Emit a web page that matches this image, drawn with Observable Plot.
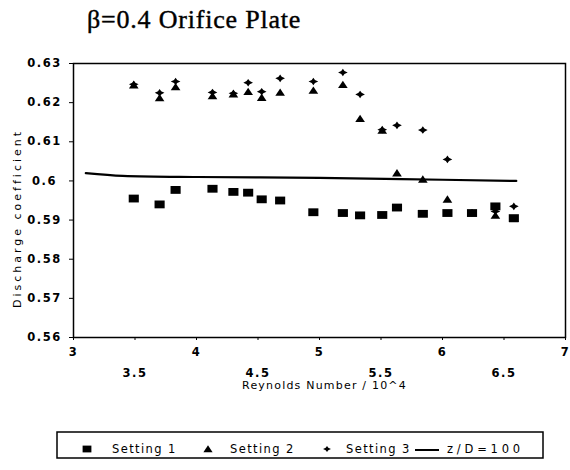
<!DOCTYPE html>
<html>
<head>
<meta charset="utf-8">
<script src="https://cdn.jsdelivr.net/npm/d3@7"></script>
<script src="https://cdn.jsdelivr.net/npm/@observablehq/plot@0.6"></script>
<style>
  html, body { margin: 0; padding: 0; background: white; }
  body { width: 570px; height: 470px; position: relative; overflow: hidden; }
  #title { position: absolute; left: 87px; top: 7px; font-family: "Liberation Serif", serif; font-size: 26px; line-height: 26px; letter-spacing: 0.8px; color: black; white-space: nowrap; -webkit-text-stroke: 0.4px black; }
  #chart { position: absolute; left: 0; top: 45px; }
  #legend { position: absolute; left: 0; top: 425px; }
</style>
</head>
<body>
<div id="title"></div>
<div id="chart"></div>
<div id="legend"></div>
<script>
// ---- data ----
const reynolds = [3.49, 3.70, 3.83, 4.13, 4.30, 4.42, 4.53, 4.68, 4.95, 5.19, 5.33, 5.51, 5.63, 5.84, 6.04, 6.24, 6.43, 6.58];
const setting1 = [0.5955, 0.5940, 0.5977, 0.5980, 0.5972, 0.5970, 0.5953, 0.5950, 0.5920, 0.5918, 0.5912, 0.5913, 0.5932, 0.5916, 0.5918, 0.5918, 0.5935, 0.5905];
const setting2 = [0.6245, 0.6212, 0.6240, 0.6217, 0.6222, 0.6228, 0.6213, 0.6226, 0.6231, 0.6246, 0.6159, 0.6129, 0.6020, 0.6004, 0.5953, 0.5918, 0.5912, 0.5903];
const setting3 = [0.6247, 0.6225, 0.6254, 0.6226, 0.6224, 0.6251, 0.6228, 0.6262, 0.6254, 0.6277, 0.6221, 0.6131, 0.6142, 0.6130, 0.6055, 0.5918, 0.5922, 0.5935];
const refLineX = [3.1, 3.4, 4.0, 5.0, 6.0, 6.6];
const refLineY = [0.6020, 0.6013, 0.6010, 0.6008, 0.6003, 0.6000];
const xTicksInt = [3, 4, 5, 6, 7];
const xTicksHalf = [3.5, 4.5, 5.5, 6.5];
const yTicks = [0.56, 0.57, 0.58, 0.59, 0.60, 0.61, 0.62, 0.63];
const seriesNames = ["Setting 1", "Setting 2", "Setting 3", "z/D=100"];
const titleText = "β=0.4 Orifice Plate";
const xLabel = "Reynolds Number / 10^4";
const yLabel = "Discharge coefficient";

document.getElementById("title").textContent = titleText;

// ---- symbols ----
const sqSym = {draw(ctx, size) { const r = Math.sqrt(size / Math.PI); const w = r * 1.1, h = r * 0.85;
  ctx.moveTo(-w, -h); ctx.lineTo(w, -h); ctx.lineTo(w, h); ctx.lineTo(-w, h); ctx.closePath(); }};
const triSym = {draw(ctx, size) { const r = Math.sqrt(size / Math.PI);
  ctx.moveTo(0, -r * 0.95); ctx.lineTo(r * 1.15, r * 0.8); ctx.lineTo(-r * 1.15, r * 0.8); ctx.closePath(); }};
const starSym = {draw(ctx, size) { const r = Math.sqrt(size / Math.PI); const h = r * 1.15, v = r * 0.9, w = r * 0.38;
  ctx.moveTo(0, -v); ctx.lineTo(w, -w); ctx.lineTo(h, 0); ctx.lineTo(w, w); ctx.lineTo(0, v);
  ctx.lineTo(-w, w); ctx.lineTo(-h, 0); ctx.lineTo(-w, -w); ctx.closePath(); }};

const d1 = reynolds.map((x, i) => ({x, y: setting1[i]}));
const d2 = reynolds.map((x, i) => ({x, y: setting2[i]}));
const d3s = reynolds.map((x, i) => ({x, y: setting3[i]}));
const dl = refLineX.map((x, i) => ({x, y: refLineY[i]}));

const fmt = d => String(+d.toFixed(2));

const chart = Plot.plot({
  width: 570, height: 350,
  marginLeft: 73, marginRight: 5, marginTop: 18, marginBottom: 58,
  style: {fontFamily: "DejaVu Sans", fontSize: "11.5px", background: "white", color: "black", overflow: "visible", letterSpacing: "1.5px"},
  x: {domain: [3, 7]},
  y: {domain: [0.56, 0.63]},
  marks: [
    Plot.axisY({ticks: yTicks, tickSize: 4, tickPadding: 25, textAnchor: "middle", tickFormat: fmt, fontWeight: "bold", label: null}),
    Plot.axisX({ticks: [...xTicksInt, ...xTicksHalf], tickSize: 3, tickFormat: () => "", label: null}),
    Plot.axisX({ticks: xTicksInt, tickSize: 0, tickPadding: 10, tickFormat: fmt, fontWeight: "bold", label: null}),
    Plot.axisX({ticks: xTicksHalf, tickSize: 0, tickPadding: 31, tickFormat: fmt, fontWeight: "bold", label: null}),
    Plot.frame({stroke: "black", strokeWidth: 1.5}),
    Plot.line(dl, {x: "x", y: "y", stroke: "black", strokeWidth: 2.2, curve: "monotone-x"}),
    Plot.dot(d1, {x: "x", y: "y", symbol: sqSym, r: 4.6, fill: "black", stroke: "none"}),
    Plot.dot(d2, {x: "x", y: "y", symbol: triSym, r: 4.2, fill: "black", stroke: "none"}),
    Plot.dot(d3s, {x: "x", y: "y", symbol: starSym, r: 4.2, fill: "black", stroke: "none"}),
    Plot.text([xLabel], {text: d => d, frameAnchor: "bottom", lineAnchor: "middle", textAnchor: "middle", dx: 5, dy: 48, fontSize: 11}),
    Plot.text([yLabel], {text: d => d, frameAnchor: "left", lineAnchor: "middle", textAnchor: "middle", dx: -56, dy: 18, rotate: -90, fontSize: 11})
  ]
});
d3.select(chart).selectAll("text").each(function() {
  const t = this.textContent;
  if (t === xLabel) d3.select(this).style("letter-spacing", "1.2px");
  if (t === yLabel) d3.select(this).style("letter-spacing", "3px");
});
document.getElementById("chart").appendChild(chart);

// ---- legend ----
const lg = d3.select("#legend").append("svg").attr("width", 570).attr("height", 45)
  .style("font-family", "DejaVu Sans").style("font-size", "11.5px").style("letter-spacing", "1.4px");
lg.append("rect").attr("x", 57).attr("y", 7).attr("width", 486).attr("height", 26)
  .attr("fill", "none").attr("stroke", "black").attr("stroke-width", 1.5);
const my = 24, ty = 27.5;
const symPath = (sym, size) => d3.symbol(sym, size)();
lg.append("path").attr("d", symPath(sqSym, Math.PI * 16)).attr("transform", `translate(87,${my})`).attr("fill", "black");
lg.append("path").attr("d", symPath(triSym, Math.PI * 16)).attr("transform", `translate(208,${my})`).attr("fill", "black");
lg.append("path").attr("d", symPath(starSym, Math.PI * 12)).attr("transform", `translate(327,${my})`).attr("fill", "black");
lg.append("line").attr("x1", 415).attr("x2", 439).attr("y1", my + 1).attr("y2", my + 1).attr("stroke", "black").attr("stroke-width", 2);
const textX = [112, 230, 346, 447];
seriesNames.forEach((s, i) => {
  const t = lg.append("text").attr("x", textX[i]).attr("y", ty).text(s);
  if (i === 3) t.style("letter-spacing", "3.8px");
});
</script>
</body>
</html>
